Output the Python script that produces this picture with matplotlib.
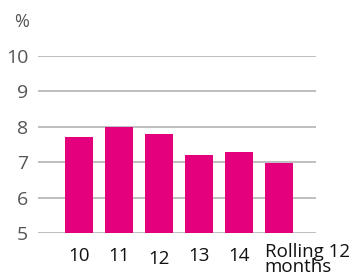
import matplotlib.pyplot as plt
import matplotlib.transforms as mtransforms

plt.rcParams["font.family"] = ["Open Sans", "DejaVu Sans"]

categories = ["10", "11", "12", "13", "14"]
last_label = "Rolling 12\nmonths"
values = [7.7, 8.0, 7.8, 7.2, 7.3, 6.99]
yticks = [5, 6, 7, 8, 9, 10]

bar_color = "#E4007C"
grid_color = "#b4b4b4"

fig = plt.figure(figsize=(3.53, 2.77), dpi=100)
ax = fig.add_axes([38 / 353, 44 / 277, 278 / 353, 177 / 277])

x = list(range(len(values)))
ax.bar(x, values, width=0.7, color=bar_color, zorder=3)

ax.set_ylim(5, 10)
ax.set_xlim(-1.025, 5.925)
ax.set_yticks(yticks)
ax.set_yticklabels([str(t) for t in yticks], fontsize=14, color="#555555")
ax.grid(axis="y", color=grid_color, linewidth=1.2, zorder=0)
ax.tick_params(axis="y", length=0, pad=7)
ax.tick_params(axis="x", length=0, pad=10)
for s in ax.spines.values():
    s.set_visible(False)

ax.set_xticks(x[:5])
ax.set_xticklabels(categories, fontsize=13.5, color="#111111", fontweight="medium")
# the "12" label sits a little lower in the original
lbl = ax.get_xticklabels()[2]
lbl.set_transform(lbl.get_transform() + mtransforms.ScaledTranslation(0, -3 / 100, fig.dpi_scale_trans))

ax.text(5 - 0.36, -10 / 177, last_label, transform=mtransforms.blended_transform_factory(ax.transData, ax.transAxes),
        ha="left", va="top", fontsize=13.5, color="#111111", fontweight="medium", linespacing=0.8)

fig.text(14 / 353, 1 - 22 / 277, "%", fontsize=13, color="#555555", va="center", ha="left")

fig.savefig("out.png", dpi=100)
